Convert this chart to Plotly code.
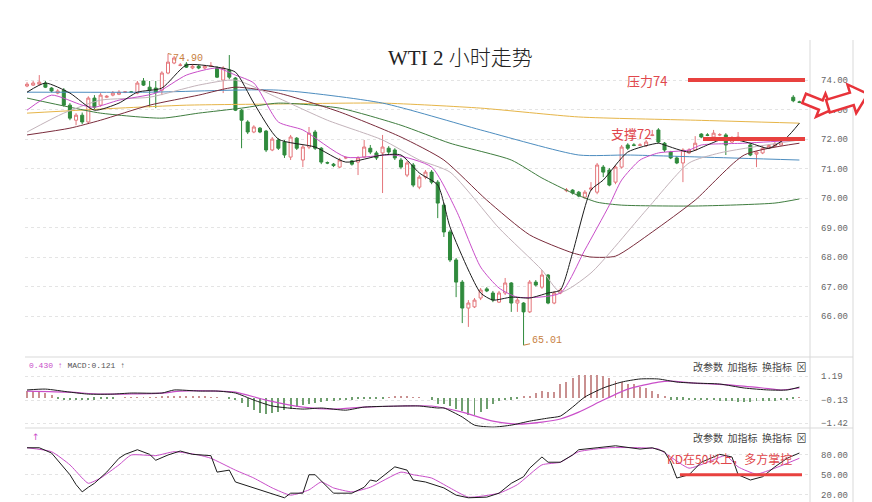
import math
import plotly.graph_objects as go

# ---------------- data ----------------
opens = [73.80,73.83,73.86,73.90,73.73,73.56,73.66,73.15,72.64,72.81,
         72.58,73.39,73.15,73.42,73.49,73.52,73.59,73.60,73.56,73.97,
         73.76,73.73,73.66,74.24,74.58,74.50,74.54,74.41,74.47,74.41,
         74.47,74.41,74.00,74.34,74.07,72.98,72.58,72.24,72.37,72.27,
         71.63,71.97,71.90,71.39,72.03,71.29,71.73,72.24,71.69,71.20,
         71.15,71.05,71.36,71.26,71.22,71.39,71.69,71.53,71.53,71.69,
         71.63,71.29,70.78,71.12,70.37,70.71,70.88,70.54,69.76,68.85,
         67.90,67.15,66.27,66.31,66.61,66.92,66.78,66.47,66.78,67.12,
         66.44,66.44,66.14,67.15,66.98,67.39,66.44,66.78,70.25,70.27,
         70.20,70.03,70.30,70.20,71.05,70.95,70.54,71.05,71.80,71.80,
         71.79,71.78,72.12,72.31,71.86,71.56,71.36,71.19,71.53,71.63,
         72.17,72.14,72.07,72.14,72.14,71.90,71.97,71.98,71.80,71.49,
         71.53,71.69,71.76,71.80,71.96,73.42,73.26]
highs = [73.93,73.97,74.17,73.97,73.76,73.69,73.73,73.22,72.88,72.90,
         73.45,73.49,73.56,73.49,73.63,73.66,73.63,73.63,73.97,74.07,
         73.97,73.97,74.30,74.90,74.82,74.58,74.61,74.54,74.51,74.51,
         74.61,74.47,74.47,74.85,74.10,73.02,72.64,72.47,72.41,72.31,
         72.07,72.03,71.97,72.14,72.07,71.80,72.41,72.31,71.73,71.24,
         71.19,71.36,71.42,71.29,71.42,71.97,71.80,71.60,72.14,71.76,
         71.69,71.36,71.26,71.19,70.78,70.95,70.95,70.61,69.83,68.92,
         67.97,67.22,66.54,66.61,66.95,66.98,66.85,66.85,67.29,67.15,
         66.61,66.47,67.22,67.22,67.56,67.42,66.85,66.95,70.34,70.30,
         70.24,70.27,70.54,71.19,71.12,71.02,71.12,71.80,71.86,71.86,
         71.86,71.97,72.31,72.37,71.90,71.60,71.42,71.69,71.69,72.10,
         72.20,72.20,72.31,72.20,72.20,72.10,72.24,72.03,71.86,71.60,
         71.76,71.83,71.90,71.97,72.03,73.49,73.30]
lows = [73.76,73.80,73.83,73.73,73.59,73.52,73.10,72.64,72.47,72.51,
        72.51,73.02,73.10,73.39,73.45,73.49,73.56,73.56,73.52,73.80,
        73.08,73.05,73.49,74.20,74.54,74.47,74.41,74.37,74.37,74.37,
        74.44,74.07,73.56,74.03,72.95,71.69,72.17,72.20,72.20,71.56,
        71.59,71.63,71.36,71.29,71.63,71.05,71.66,71.63,71.15,71.15,
        71.05,71.02,71.32,71.10,70.78,71.36,71.49,71.29,70.17,71.49,
        71.29,70.98,70.71,70.37,70.30,70.64,70.47,69.32,68.68,67.83,
        66.64,65.76,65.63,66.27,66.54,66.81,66.47,66.44,66.71,66.14,
        66.14,65.01,66.10,67.00,66.92,66.40,66.40,66.74,70.20,70.12,
        70.03,69.97,70.24,70.13,70.71,70.40,70.47,71.00,71.63,71.76,
        71.76,71.73,72.10,71.86,71.56,71.32,71.15,70.54,71.49,71.60,
        72.03,72.10,72.03,72.10,71.46,71.86,71.93,71.93,71.42,71.05,
        71.49,71.66,71.73,71.78,71.93,73.25,73.22]
closes = [73.86,73.90,73.93,73.76,73.63,73.63,73.15,72.71,72.81,72.58,
          73.39,73.08,73.49,73.45,73.56,73.59,73.60,73.59,73.90,73.83,
          73.66,73.59,74.24,74.61,74.75,74.51,74.44,74.47,74.41,74.47,
          74.48,74.10,74.41,74.10,72.98,72.64,72.24,72.41,72.24,71.63,
          72.00,71.69,71.46,72.07,71.69,71.73,72.20,71.69,71.22,71.19,
          71.10,71.29,71.37,71.15,71.36,71.73,71.56,71.36,71.73,71.56,
          71.36,71.05,71.19,70.44,70.71,70.88,70.54,69.83,68.85,67.90,
          67.15,66.27,66.44,66.54,66.88,66.85,66.54,66.78,67.12,66.44,
          66.54,66.14,67.15,67.05,67.39,66.44,66.78,66.88,70.27,70.17,
          70.07,70.20,70.34,71.12,70.88,70.44,71.05,71.73,71.69,71.79,
          71.80,71.90,72.14,71.90,71.63,71.36,71.19,71.63,71.63,71.86,
          72.07,72.13,72.20,72.15,71.80,72.03,72.07,71.97,71.46,71.56,
          71.69,71.78,71.83,71.90,71.97,73.30,73.25]

# moving averages (sampled at bar index)
ma5_idx = [0,3,7,11,15,18,22,26,31,34,37,41,47,52,58,61,64,67,69,72,74,76,79,82,85,87,89,92,94,98,103,104,108,111,114,118,121,124,126]
ma5_val = [73.59,73.90,73.56,72.98,73.22,73.59,73.73,74.51,74.44,74.27,73.22,72.00,71.73,71.22,71.46,71.46,70.85,70.44,69.02,67.56,
           66.78,66.54,66.64,66.61,66.78,66.88,68.14,70.27,70.61,71.56,71.86,71.80,71.56,71.80,72.03,71.86,71.69,72.07,72.54]
ma10_idx = [0,4,9,11,15,21,26,31,34,37,41,45,52,60,66,70,74,77,80,87,91,95,97,100,103,108,110,117,126]
ma10_val = [72.98,73.49,73.15,73.08,73.32,73.56,74.17,74.41,74.17,73.90,72.58,72.31,71.39,71.46,71.05,69.59,67.66,66.95,66.64,66.78,
            68.24,69.76,70.61,71.29,71.53,71.63,71.80,71.86,71.97]
ma20_idx = [0,6,12,20,28,34,41,49,58,64,69,77,84,87,92,101,108,113,126]
ma20_val = [72.24,72.88,73.32,73.42,73.83,74.00,73.39,72.64,71.97,71.29,70.88,68.98,67.56,66.81,67.46,69.59,71.19,71.53,71.97]
ma30_idx = [0,7,12,20,28,34,41,51,61,68,75,82,89,92,96,102,109,117,126]
ma30_val = [72.14,72.37,72.64,73.15,73.49,73.76,73.56,72.92,72.07,71.29,69.93,68.75,68.14,68.00,68.03,68.85,69.93,71.46,71.86]
ma60_idx = [0,7,12,22,28,35,41,51,61,69,79,84,89,93,97,109,122,126]
ma60_val = [73.39,73.08,72.88,72.71,72.88,73.05,73.22,73.05,72.47,71.86,71.29,70.68,70.17,69.86,69.76,69.73,69.83,69.97]
ma120_idx = [0,20,41,58,74,90,98,110,126]
ma120_val = [73.59,73.59,73.66,73.22,72.31,71.46,71.46,71.39,71.29]
ma250_idx = [0,15,26,41,58,74,90,109,126]
ma250_val = [72.88,73.05,73.15,73.19,73.22,73.05,72.75,72.64,72.54]

# MACD
macd_hist = [0.40,0.35,0.30,0.25,0.15,
             -0.08,-0.12,-0.15,-0.15,-0.15,-0.12,-0.10,-0.08,-0.05,
             -0.03,0.0,0.02,0.03,0.03,0.03,0.02,0.02,
             0.05,0.08,0.10,0.10,0.10,0.08,0.06,0.05,0.04,
             0.03,0.0,-0.05,
             -0.15,-0.30,-0.50,-0.70,-0.85,-0.90,-0.85,-0.80,-0.70,-0.60,-0.50,-0.40,-0.35,-0.30,-0.25,
             -0.20,-0.18,-0.15,-0.12,-0.10,-0.08,-0.06,-0.05,-0.04,-0.03,
             0.03,0.05,0.06,0.05,0.04,0.02,0.0,-0.10,
             -0.33,-0.35,-0.45,-0.60,-0.75,-0.95,-0.95,-0.80,-0.60,-0.35,-0.20,-0.12,-0.10,-0.05,0.05,0.05,
             0.25,0.35,0.30,0.30,0.75,0.85,1.10,1.25,1.25,1.25,1.25,1.20,1.10,0.95,0.85,0.75,0.75,0.60,0.55,0.40,0.20,0.05,
             -0.10,-0.10,-0.10,-0.12,-0.12,-0.15,-0.15,-0.15,
             -0.18,-0.20,-0.20,-0.22,-0.22,-0.22,-0.20,-0.20,-0.20,-0.18,-0.15,-0.12,-0.08,0.03]
dif_idx = [0,3,7,10,14,17,22,24,28,31,34,37,40,45,48,52,55,61,64,67,68,71,73,76,79,82,85,87,89,91,94,97,100,103,106,109,113,117,121,124,126]
dif_val = [0.43,0.48,0.31,0.20,0.20,0.26,0.26,0.43,0.37,0.37,0.26,-0.13,-0.46,-0.63,-0.57,-0.69,-0.52,-0.46,-0.46,-0.57,
           -0.57,-1.07,-1.52,-1.63,-1.52,-1.30,-1.13,-1.02,-0.52,0.04,0.54,0.87,1.04,1.04,0.87,0.81,0.76,0.54,0.43,0.43,0.59]
dea_idx = [0,7,12,22,25,31,34,39,45,50,55,61,66,71,76,80,84,87,90,94,98,103,105,109,115,120,123,126]
dea_val = [0.37,0.31,0.20,0.26,0.37,0.37,0.31,-0.13,-0.52,-0.63,-0.52,-0.46,-0.46,-0.80,-1.30,-1.46,-1.35,-1.18,-0.80,-0.13,
           0.48,0.87,0.92,0.81,0.70,0.54,0.43,0.54]

# KD
k_idx = [0,2,4,5,7,8,9,10,11,13,15,16,18,20,21,23,25,27,30,31,33,34,37,40,42,43,45,46,47,50,53,55,56,57,60,62,63,65,68,70,
         72,75,77,79,80,81,82,84,85,87,89,90,93,96,100,102,104,105,106,108,110,113,115,116,118,120,122,124,126]
k_val = [91,91,83,72,50,35,24,31,37,54,75,81,88,81,72,80,86,81,79,54,57,39,30,22,15,22,22,50,50,22,22,31,42,40,62,57,42,39,30,19,
         15,16,22,37,42,47,60,77,69,69,80,88,91,94,89,91,85,69,45,50,69,81,77,50,42,47,62,75,83]
d_idx = [0,4,7,9,10,12,15,17,21,24,28,30,34,37,40,43,46,48,50,53,56,61,63,66,69,72,77,80,84,87,90,95,100,103,105,108,111,114,116,119,122,126]
d_val = [91,85,65,45,37,45,65,80,79,85,80,75,57,45,30,19,27,39,30,24,31,54,50,45,30,16,22,35,65,69,85,91,91,89,77,60,69,79,62,51,60,75]

main_ticks = [66, 67, 68, 69, 70, 71, 72, 73, 74]
macd_ticks = [1.19, -0.13, -1.42]
kd_ticks = [80, 50, 20]
resistance = 74
support = 72
kd_level = 50
high_label = 74.90
low_label = 65.01
high_bar = 23
low_bar = 81

# ---------------- figure ----------------
OFF = 8                      # page body margin
W, H = 872 - OFF, 502 - OFF
ML, MR = 25 - OFF, 62
PW = W - ML - MR


def px(x):
    """screen x (reference pixels) -> paper x"""
    return (x - OFF - ML) / PW


def py(y):
    """screen y (reference pixels) -> paper y"""
    return 1 - (y - OFF) / H


UP = "#e4757a"
DN = "#2f8a3c"
bars = list(range(len(closes)))

fig = go.Figure()
fig.add_trace(go.Candlestick(
    x=bars, open=opens, high=highs, low=lows, close=closes,
    xaxis="x", yaxis="y", whiskerwidth=0,
    increasing=dict(line=dict(color=UP, width=1), fillcolor="white"),
    decreasing=dict(line=dict(color=DN, width=1), fillcolor=DN),
    showlegend=False, hoverinfo="skip"))

ma_specs = [
    (ma250_idx, ma250_val, "#e6b548"),
    (ma120_idx, ma120_val, "#4d8dbf"),
    (ma60_idx, ma60_val, "#3f7d3f"),
    (ma30_idx, ma30_val, "#7a2c3c"),
    (ma20_idx, ma20_val, "#c3b3ba"),
    (ma10_idx, ma10_val, "#c94ec9"),
    (ma5_idx, ma5_val, "#1c1c1c"),
]
for xi, yv, col in ma_specs:
    fig.add_trace(go.Scatter(x=xi, y=yv, mode="lines", xaxis="x", yaxis="y",
                             line=dict(color=col, width=1, shape="spline", smoothing=0.6),
                             showlegend=False, hoverinfo="skip"))

fig.add_trace(go.Bar(x=bars, y=macd_hist, xaxis="x", yaxis="y2", width=0.16,
                     marker=dict(color=["#c99090" if v >= 0 else "#6f9f6f" for v in macd_hist], line=dict(width=0)),
                     showlegend=False, hoverinfo="skip"))
fig.add_trace(go.Scatter(x=dea_idx, y=dea_val, mode="lines", xaxis="x", yaxis="y2",
                         line=dict(color="#c94ec9", width=1.2, shape="spline", smoothing=0.6), showlegend=False))
fig.add_trace(go.Scatter(x=dif_idx, y=dif_val, mode="lines", xaxis="x", yaxis="y2",
                         line=dict(color="#1c1c1c", width=1, shape="spline", smoothing=0.6), showlegend=False))

fig.add_trace(go.Scatter(x=d_idx, y=d_val, mode="lines", xaxis="x", yaxis="y3",
                         line=dict(color="#c94ec9", width=1, shape="spline", smoothing=0.5), showlegend=False))
fig.add_trace(go.Scatter(x=k_idx, y=k_val, mode="lines", xaxis="x", yaxis="y3",
                         line=dict(color="#1c1c1c", width=1), showlegend=False))

tickfont = dict(family="Liberation Mono, DejaVu Sans Mono", size=9, color="#666")
yax_common = dict(side="right", showgrid=True, gridcolor="#e4e4e4", griddash="dot", gridwidth=1,
                  zeroline=False, showline=False, ticks="", tickfont=tickfont, ticklabelstandoff=10,
                  tickformat=".2f", fixedrange=True)

fig.update_layout(
    width=W, height=H,
    margin=dict(l=ML, r=MR, t=0, b=0),
    paper_bgcolor="white", plot_bgcolor="white",
    showlegend=False, bargap=0,
    xaxis=dict(range=[-0.33, 127.73], visible=False, rangeslider=dict(visible=False), anchor="y3"),
    yaxis=dict(domain=[py(357), py(40)], range=[64.61, 75.36], tickvals=main_ticks, **yax_common),
    yaxis2=dict(domain=[py(428), py(357)], range=[-1.68, 2.26], tickvals=macd_ticks, **yax_common),
    yaxis3=dict(domain=[0, py(428)], range=[8.6, 121], tickvals=kd_ticks, **yax_common),
)

shapes = []
line_col = "#d9d9d9"
for yy in (357, 428):
    shapes.append(dict(type="line", xref="paper", yref="paper", x0=px(25), x1=px(853), y0=py(yy), y1=py(yy),
                       line=dict(color=line_col, width=1)))
for xx in (810, 853):
    shapes.append(dict(type="line", xref="paper", yref="paper", x0=px(xx), x1=px(xx), y0=py(40), y1=0,
                       line=dict(color=line_col, width=1)))
red = "#e8413f"
shapes.append(dict(type="line", xref="paper", yref="y", x0=px(688), x1=px(805), y0=resistance, y1=resistance,
                   line=dict(color=red, width=4)))
shapes.append(dict(type="line", xref="paper", yref="y", x0=px(703), x1=px(805), y0=support, y1=support,
                   line=dict(color=red, width=4)))
shapes.append(dict(type="line", xref="paper", yref="y3", x0=px(680), x1=px(802), y0=kd_level, y1=kd_level,
                   line=dict(color=red, width=3)))


def block_arrow(cx, cy, L, sh, hh, hl, ang):
    pts = [(-L / 2, -sh / 2), (L / 2 - hl, -sh / 2), (L / 2 - hl, -hh / 2), (L / 2, 0),
           (L / 2 - hl, hh / 2), (L / 2 - hl, sh / 2), (-L / 2, sh / 2)]
    a = math.radians(ang)
    out = []
    for x, y in pts:
        xr = cx + x * math.cos(a) - y * math.sin(a)
        yr = cy + x * math.sin(a) + y * math.cos(a)
        out.append(f"{px(xr):.5f},{py(yr):.5f}")
    return "M " + " L ".join(out) + " Z"


for args in [(818, 104, 30, 10, 25, 12, 22), (848, 100, 42, 13, 30, 17, -17)]:
    shapes.append(dict(type="path", xref="paper", yref="paper", path=block_arrow(*args),
                       fillcolor="white", line=dict(color="#e8333a", width=2.5), layer="above"))
fig.update_layout(shapes=shapes)

cjk = "Noto Sans CJK SC"
ann = []


def label(x, y, text, size, color, family=cjk, xanchor="center", weight=None):
    font = dict(family=family, size=size, color=color)
    if weight:
        font["weight"] = weight
    ann.append(dict(xref="paper", yref="paper", x=px(x), y=py(y), text=text, showarrow=False,
                    xanchor=xanchor, yanchor="middle", font=font))


label(460, 58, "WTI 2 小时走势", 21, "#222", family="Liberation Serif, " + cjk, weight=300)
label(647, 80, "压力74", 13, "#e0474c")
label(631, 133, "支撑72", 13, "#e0474c")
label(729, 458, "KD在50以上，多方掌控", 12, "#e0474c")
label(27, 365, "<span style='color:#c94ec9'>0.430 ↑</span> MACD:0.121 ↑", 8, "#555",
      family="Liberation Mono, " + cjk, xanchor="left")
label(30, 437, "↑", 9, "#c94ec9", family="DejaVu Sans", xanchor="left")
for yy in (366, 437):
    label(808, yy, "改参数  加指标  换指标  ⊠", 10, "#444", xanchor="right")

ann.append(dict(xref="x", yref="y", x=high_bar, y=high_label, text=f"{high_label:.2f}", showarrow=True,
                arrowhead=0, arrowwidth=1, arrowcolor="#c8813f", ax=20, ay=5,
                font=dict(family="Liberation Mono", size=10, color="#c8813f")))
ann.append(dict(xref="x", yref="y", x=low_bar, y=low_label, text=f"{low_label:.2f}", showarrow=True,
                arrowhead=0, arrowwidth=1, arrowcolor="#c8813f", ax=23, ay=-5,
                font=dict(family="Liberation Mono", size=10, color="#c8813f")))
fig.update_layout(annotations=ann)

fig.write_html("out.html")
